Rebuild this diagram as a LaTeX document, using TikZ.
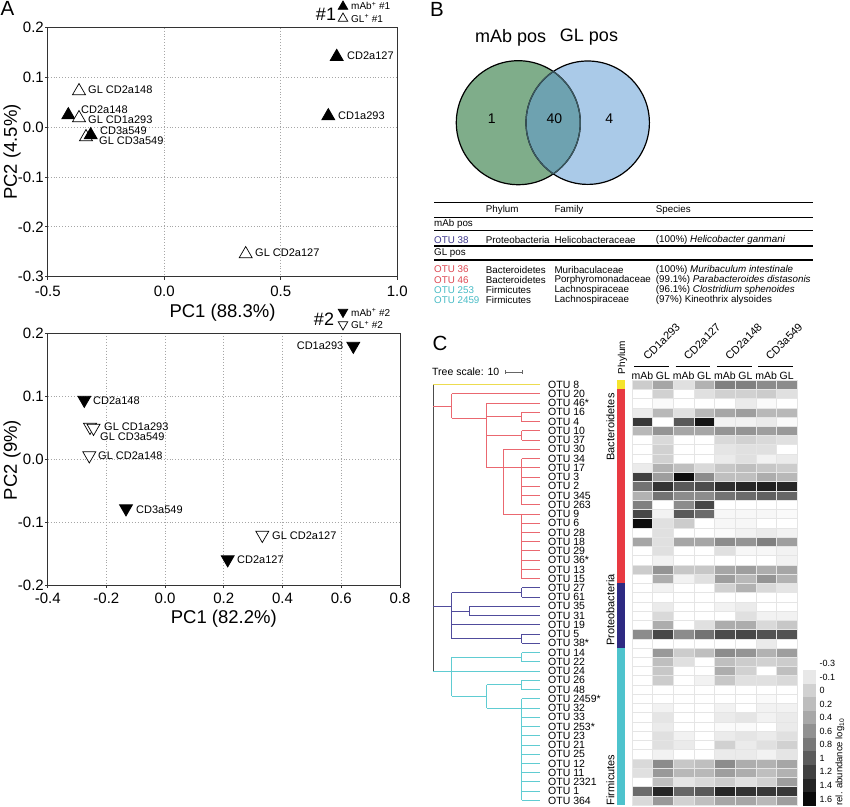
\documentclass[tikz,border=0pt]{standalone}
\usepackage{fontspec}
\setmainfont{Liberation Sans}
\usetikzlibrary{shapes.geometric}
\newcommand{\fsz}[1]{\fontsize{#1}{#1}\selectfont}
\newcommand{\tleaf}[3]{\draw[#1] (#2,{384.6+(#3-1)*9.24}) -- (540,{384.6+(#3-1)*9.24});}
\definecolor{vgreen}{RGB}{127,173,138}
\definecolor{vblue}{RGB}{170,202,232}
\definecolor{vover}{RGB}{110,162,176}
\definecolor{pyel}{RGB}{245,228,45}
\definecolor{pred}{RGB}{232,58,66}
\definecolor{ppur}{RGB}{46,42,130}
\definecolor{pcyan}{RGB}{78,195,205}
\definecolor{lred}{RGB}{234,104,112}
\definecolor{lpur}{RGB}{80,76,156}
\definecolor{lcyan}{RGB}{96,204,210}
\definecolor{lyel}{RGB}{236,220,80}
\definecolor{txred}{RGB}{222,72,82}
\definecolor{txpur}{RGB}{62,56,140}
\definecolor{txcyan}{RGB}{72,188,198}
\begin{document}
\begin{tikzpicture}[x=1pt,y=-1pt,
  lab/.style={font=\fsz{11}, anchor=west, inner sep=0pt},
  ticklab/.style={font=\fsz{15}, inner sep=0pt},
  axtitle/.style={font=\fsz{18.5}, inner sep=0pt},
  panel/.style={font=\fsz{20.5}, inner sep=0pt},
  gridl/.style={black!35, dotted, line width=0.9pt},
  frame/.style={line width=0.9pt, black!80},
  uptri/.style={regular polygon, regular polygon sides=3, minimum size=15pt, inner sep=0pt, draw=black, line width=0.7pt},
  dntri/.style={uptri, shape border rotate=180},
  smalltri/.style={minimum size=11pt},
  tab/.style={font=\fsz{9.8}, anchor=west, inner sep=0pt},
  rule/.style={line width=1.1pt},
  otu/.style={font=\fsz{10.5}, anchor=west, inner sep=0pt},
  tline/.style={line width=0.9pt},
  troot/.style={tline, black!70},
  tyel/.style={tline, lyel},
  tred/.style={tline, lred},
  tpur/.style={tline, lpur},
  tcyan/.style={tline, lcyan},
  hdr/.style={font=\fsz{10.5}, inner sep=0pt},
  grp/.style={font=\fsz{11}, inner sep=0pt, anchor=south west, rotate=45},
  phy/.style={font=\fsz{11}, inner sep=0pt, rotate=90},
  leg/.style={font=\fsz{9}, anchor=west, inner sep=0pt}
]
\useasboundingbox (0,0) rectangle (850,806);
\fill[white] (0,0) rectangle (850,806);

%% ================= Panel A top =================
\node[panel] (pA) at (7.5,8) {A};
\foreach \x in {164.2,280.7} \draw[gridl] (\x,27.7) -- (\x,276.7);
\foreach \y in {77.5,127.3,177.1,226.9} \draw[gridl] (47.7,\y) -- (397.3,\y);
\draw[frame] (47.7,27.7) rectangle (397.3,276.7);
\foreach \x in {47.7,164.2,280.7,397.3} \draw[frame] (\x,276.7) -- (\x,280);
\foreach \y in {27.7,77.5,127.3,177.1,226.9,276.7} \draw[frame] (47.7,\y) -- (44.7,\y);
\node[ticklab] at (47.7,291) {-0.5};
\node[ticklab] at (164.2,291) {0.0};
\node[ticklab] at (280.7,291) {0.5};
\node[ticklab] at (397.3,291) {1.0};
\node[ticklab, anchor=east] at (44,27.7) {0.2};
\node[ticklab, anchor=east] at (44,77.5) {0.1};
\node[ticklab, anchor=east] at (44,127.3) {0.0};
\node[ticklab, anchor=east] at (44,177.1) {-0.1};
\node[ticklab, anchor=east] at (44,226.9) {-0.2};
\node[ticklab, anchor=east] at (44,276.7) {-0.3};
\node[axtitle] (xa1) at (222.5,312.5) {PC1 (88.3\%)};
\node[axtitle, rotate=90] (ya1) at (12,152) {PC2 (4.5\%)};
% legend
\node[font=\fsz{18}, inner sep=0pt] (h1) at (326,14.5) {\#1};
\node[uptri, smalltri, fill=black] (lg1a) at (343,6.5) {};
\node[leg, font=\fsz{10}] at (351,6) {mAb\textsuperscript{+} \#1};
\node[uptri, smalltri, fill=white] (lg1b) at (343,18.5) {};
\node[leg, font=\fsz{10}] at (351,18.5) {GL\textsuperscript{+} \#1};
% points
\node[uptri, fill=black] (a1) at (336.7,56.7) {};
\node[lab] at (347,55.5) {CD2a127};
\node[uptri, fill=black] (a2) at (328.3,116) {};
\node[lab] at (338,115.5) {CD1a293};
\node[uptri, fill=white] (a3) at (79,91) {};
\node[lab] at (88,90) {GL CD2a148};
\node[uptri, fill=black] (a4) at (68.3,115) {};
\node[uptri, fill=white] (a5) at (79,118) {};
\node[lab] at (81,109.5) {CD2a148};
\node[lab] at (88,119.5) {GL CD1a293};
\node[uptri, fill=white] (a6) at (86,137) {};
\node[uptri, fill=black] (a7) at (90.7,135) {};
\node[lab] at (100,131) {CD3a549};
\node[lab] at (99,141) {GL CD3a549};
\node[uptri, fill=white] (a8) at (245.7,254) {};
\node[lab] at (255,253) {GL CD2a127};

%% ================= Panel A bottom =================
\foreach \x in {106.4,165.1,223.8,282.5,341.2} \draw[gridl] (\x,333.3) -- (\x,585);
\foreach \y in {396.2,459.2,522} \draw[gridl] (47.7,\y) -- (400,\y);
\draw[frame] (47.7,333.3) rectangle (400,585);
\foreach \x in {47.7,106.4,165.1,223.8,282.5,341.2,400} \draw[frame] (\x,585) -- (\x,588.3);
\foreach \y in {333.3,396.2,459.2,522,585} \draw[frame] (47.7,\y) -- (44.7,\y);
\node[ticklab] at (47.7,598) {-0.4};
\node[ticklab] at (106.4,598) {-0.2};
\node[ticklab] at (165.1,598) {0.0};
\node[ticklab] at (223.8,598) {0.2};
\node[ticklab] at (282.5,598) {0.4};
\node[ticklab] at (341.2,598) {0.6};
\node[ticklab] at (400,598) {0.8};
\node[ticklab, anchor=east] at (44,333.3) {0.2};
\node[ticklab, anchor=east] at (44,396.2) {0.1};
\node[ticklab, anchor=east] at (44,459.2) {0.0};
\node[ticklab, anchor=east] at (44,522) {-0.1};
\node[ticklab, anchor=east] at (44,585) {-0.2};
\node[axtitle] (xa2) at (223.8,619) {PC1 (82.2\%)};
\node[axtitle, rotate=90] (ya2) at (12,460) {PC2 (9\%)};
\node[font=\fsz{18}, inner sep=0pt] (h2) at (324,319.5) {\#2};
\node[dntri, smalltri, fill=black] (lg2a) at (343,312) {};
\node[leg, font=\fsz{10}] at (351,312.5) {mAb\textsuperscript{+} \#2};
\node[dntri, smalltri, fill=white] (lg2b) at (343,324.5) {};
\node[leg, font=\fsz{10}] at (351,325) {GL\textsuperscript{+} \#2};
\node[dntri, fill=black] (b1) at (353.3,346) {};
\node[lab, anchor=east] at (343.5,346) {CD1a293};
\node[dntri, fill=black] (b2) at (84.3,400) {};
\node[lab] at (93,401) {CD2a148};
\node[dntri, fill=white] (b3) at (90,427) {};
\node[dntri, fill=white] (b4) at (93.5,428) {};
\node[lab] at (104,427) {GL CD1a293};
\node[lab] at (100,437) {GL CD3a549};
\node[dntri, fill=white] (b5) at (89.3,455.5) {};
\node[lab] at (98,456) {GL CD2a148};
\node[dntri, fill=black] (b6) at (126,508.5) {};
\node[lab] at (136,509.5) {CD3a549};
\node[dntri, fill=white] (b7) at (262.3,535) {};
\node[lab] at (272,536) {GL CD2a127};
\node[dntri, fill=black] (b8) at (227.7,559.5) {};
\node[lab] at (237,560) {CD2a127};

%% ================= Panel B =================
\node[panel] (pB) at (437,9) {B};
\node[font=\fsz{18}, inner sep=0pt] (vl1) at (510.7,37.5) {mAb pos};
\node[font=\fsz{18}, inner sep=0pt] (vl2) at (589,37.5) {GL pos};
\fill[vgreen] (518.3,122.7) circle (62);
\fill[vblue] (587.7,122.7) circle (61.7);
\begin{scope}
  \clip (518.3,122.7) circle (62);
  \fill[vover] (587.7,122.7) circle (61.7);
\end{scope}
\draw[line width=1.2pt] (518.3,122.7) circle (62);
\draw[line width=1.2pt] (587.7,122.7) circle (61.7);
\begin{scope}
  \clip (518.3,122.7) circle (62);
  \draw[line width=1.2pt, black!45!vover] (587.7,122.7) circle (61.7);
\end{scope}
\begin{scope}
  \clip (587.7,122.7) circle (61.7);
  \draw[line width=1.2pt, black!45!vover] (518.3,122.7) circle (62);
\end{scope}
\node[font=\fsz{14}, inner sep=0pt] (n1) at (491.7,118.5) {1};
\node[font=\fsz{14}, inner sep=0pt] (n40) at (554.3,118.5) {40};
\node[font=\fsz{14}, inner sep=0pt] (n4) at (609.3,118.5) {4};

% table
\foreach \y in {202.7,217.3,230.7,246,260} \draw[rule] (434,\y) -- (812.7,\y);
\node[tab] at (485.7,210) {Phylum};
\node[tab] at (554.3,210) {Family};
\node[tab] at (655.7,210) {Species};
\node[tab] at (434,224.3) {mAb pos};
\node[tab, text=txpur] at (434,240) {OTU 38};
\node[tab] at (485.7,240) {Proteobacteria};
\node[tab] at (554.3,240) {Helicobacteraceae};
\node[tab] at (655.7,240) {(100\%) \textit{Helicobacter ganmani}};
\node[tab] at (434,253.3) {GL pos};
\node[tab, text=txred] at (434,269.5) {OTU 36};
\node[tab] at (485.7,269.5) {Bacteroidetes};
\node[tab] at (554.3,269.5) {Muribaculaceae};
\node[tab] at (655.7,269.5) {(100\%) \textit{Muribaculum intestinale}};
\node[tab, text=txred] at (434,279.8) {OTU 46};
\node[tab] at (485.7,279.8) {Bacteroidetes};
\node[tab] at (554.3,279.8) {Porphyromonadaceae};
\node[tab] at (655.7,279.8) {(99.1\%) \textit{Parabacteroides distasonis}};
\node[tab, text=txcyan] at (434,290.1) {OTU 253};
\node[tab] at (485.7,290.1) {Firmicutes};
\node[tab] at (554.3,290.1) {Lachnospiraceae};
\node[tab] at (655.7,290.1) {(96.1\%) \textit{Clostridium sphenoides}};
\node[tab, text=txcyan] at (434,300.4) {OTU 2459};
\node[tab] at (485.7,300.4) {Firmicutes};
\node[tab] at (554.3,300.4) {Lachnospiraceae};
\node[tab] at (655.7,300.4) {(97\%) Kineothrix alysoides};

%% ================= Panel C =================
\node[panel] (pC) at (440,343) {C};
\node[font=\fsz{10.5}, anchor=west, inner sep=0pt] (ts) at (432,372) {Tree scale: 10};
\coordinate (sb1) at (505,372);
\coordinate (sb2) at (522,372);
\draw[black!60, line width=0.6pt] (sb1) -- (sb2);
\draw[black!60, line width=0.6pt] (505,370) -- (505,374) (522,370) -- (522,374);

% tree
\draw[troot] (433,384.6) -- (433,671.04);
\draw[tyel] (433,384.6) -- (540,384.6);
% Bacteroidetes
\draw[tred] (433,406.1) -- (451.7,406.1);
\draw[tred] (451.7,393.84) -- (451.7,418.3);
\tleaf{tred}{451.7}{2}
\draw[tred] (451.7,418.3) -- (486.7,418.3);
\draw[tred] (486.7,403.08) -- (486.7,467.76);
\tleaf{tred}{486.7}{3}
\draw[tred] (486.7,416.94) -- (521.7,416.94);
\draw[tred] (521.7,412.32) -- (521.7,421.56);
\draw[tred] (486.7,435.42) -- (521.7,435.42);
\draw[tred] (521.7,430.8) -- (521.7,440.04);
\foreach \i in {4,5,6,7} {\tleaf{tred}{521.7}{\i}}
\draw[tred] (486.7,467.76) -- (503.3,467.76);
\draw[tred] (503.3,449.28) -- (503.3,513.96);
\tleaf{tred}{503.3}{8}
\tleaf{tred}{503.3}{10}
\draw[tred] (521.7,458.52) -- (521.7,504.72);
\foreach \i in {9,11,12,13,14} {\tleaf{tred}{521.7}{\i}}
\tleaf{tred}{503.3}{15}
\draw[tred] (521.7,513.96) -- (521.7,578.64);
\foreach \i in {16,...,22} {\tleaf{tred}{521.7}{\i}}
% Proteobacteria
\draw[tpur] (433,606.7) -- (451.7,606.7);
\draw[tpur] (451.7,592.5) -- (451.7,638.7);
\draw[tpur] (451.7,592.5) -- (521.7,592.5);
\draw[tpur] (521.7,587.88) -- (521.7,597.12);
\foreach \i in {23,24} {\tleaf{tpur}{521.7}{\i}}
\draw[tpur] (451.7,611) -- (469,611);
\draw[tpur] (469,606.36) -- (469,615.6);
\foreach \i in {25,26} {\tleaf{tpur}{469}{\i}}
\tleaf{tpur}{451.7}{27}
\draw[tpur] (451.7,638.7) -- (521.7,638.7);
\draw[tpur] (521.7,634.08) -- (521.7,643.32);
\foreach \i in {28,29} {\tleaf{tpur}{521.7}{\i}}
% Firmicutes
\draw[tcyan] (433,671.04) -- (451.7,671.04);
\draw[tcyan] (451.7,657.18) -- (451.7,696);
\draw[tcyan] (451.7,657.18) -- (521.7,657.18);
\draw[tcyan] (521.7,652.56) -- (521.7,661.8);
\foreach \i in {30,31} {\tleaf{tcyan}{521.7}{\i}}
\tleaf{tcyan}{451.7}{32}
\draw[tcyan] (451.7,696) -- (486.7,696);
\draw[tcyan] (486.7,684.9) -- (486.7,708);
\draw[tcyan] (486.7,684.9) -- (521.7,684.9);
\draw[tcyan] (521.7,680.28) -- (521.7,689.52);
\foreach \i in {33,34} {\tleaf{tcyan}{521.7}{\i}}
\tleaf{tcyan}{486.7}{36}
\draw[tcyan] (521.7,698.76) -- (521.7,800.4);
\foreach \i in {35,37,38,...,46} {\tleaf{tcyan}{521.7}{\i}}

% leaf labels
\foreach \lab [count=\i] in {OTU 8,OTU 20,OTU 46*,OTU 16,OTU 4,OTU 10,OTU 37,OTU 30,OTU 34,OTU 17,OTU 3,OTU 2,OTU 345,OTU 263,OTU 9,OTU 6,OTU 28,OTU 18,OTU 29,OTU 36*,OTU 13,OTU 15,OTU 27,OTU 61,OTU 35,OTU 31,OTU 19,OTU 5,OTU 38*,OTU 14,OTU 22,OTU 24,OTU 26,OTU 48,OTU 2459*,OTU 32,OTU 33,OTU 253*,OTU 23,OTU 21,OTU 25,OTU 12,OTU 11,OTU 2321,OTU 1,OTU 364}
  \node[otu] (L\i) at (548,{384.6+(\i-1)*9.24}) {\lab};

% phylum bar
\fill[pyel] (617,380) rectangle (625,389.24);
\fill[pred] (617,389.24) rectangle (625,583.28);
\fill[ppur] (617,583.28) rectangle (625,647.96);
\fill[pcyan] (617,647.96) rectangle (625,805);
\node[phy] (ph1) at (610.5,427) {Bacteroidetes};
\node[phy] (ph2) at (610.5,610) {Proteobacteria};
\node[phy] (ph3) at (610.5,780) {Firmicutes};
\node[hdr, rotate=90, font=\fsz{10}] (phh) at (622.5,357.5) {Phylum};

% heatmap
\foreach \row [count=\i] in {
{80,65,88,70,50,50,55,55},
{100,82,100,88,82,82,80,88},
{100,98,100,100,100,92,98,100},
{92,72,88,72,65,62,72,72},
{22,100,35,8,95,95,92,98},
{72,58,65,65,58,58,62,60},
{100,85,100,100,85,82,85,88},
{100,82,100,100,90,88,88,100},
{100,82,100,100,92,88,95,92},
{92,70,75,85,78,75,78,80},
{25,62,5,55,75,75,68,72},
{45,20,35,30,18,15,12,15},
{70,45,55,55,45,42,38,40},
{50,100,55,28,100,100,100,100},
{28,95,35,42,97,97,97,98},
{5,88,80,100,97,97,100,100},
{100,88,100,100,98,95,92,95},
{65,88,65,65,55,58,50,62},
{100,88,100,100,88,97,97,95},
{100,95,100,100,100,100,100,95},
{80,58,78,78,65,62,68,65},
{100,68,95,88,62,72,58,70},
{100,95,100,100,82,70,85,90},
{100,100,100,100,100,100,100,100},
{100,92,100,100,95,92,100,100},
{100,85,100,100,100,88,95,95},
{100,68,100,88,68,68,85,78},
{55,28,55,45,30,28,32,32},
{100,100,100,100,100,100,92,100},
{100,60,80,75,55,58,70,62},
{100,75,88,100,75,80,82,80},
{100,78,100,100,68,82,100,75},
{100,80,100,95,78,88,88,85},
{100,100,100,100,100,100,100,100},
{100,100,100,100,100,100,98,100},
{100,95,100,100,95,100,95,95},
{100,90,100,100,92,90,95,92},
{100,92,100,100,98,98,100,92},
{100,88,95,100,92,90,92,88},
{100,88,92,100,82,92,88,82},
{100,95,100,100,92,92,95,90},
{85,55,78,75,55,68,70,65},
{88,60,72,72,62,68,75,70},
{100,75,90,85,80,88,82,62},
{42,15,40,35,15,20,22,22},
{85,60,82,75,65,65,72,62}} {
  \foreach \v [count=\j] in \row {
    \filldraw[fill=white!\v!black, draw=black!10, line width=0.4pt]
      ({632+(\j-1)*20.63},{380+(\i-1)*9.24}) rectangle ++(20.63,9.24);
  }
}

% column headers
\foreach \j in {0,1,2,3} {
  \draw[line width=1.2pt] ({634.3+\j*41.26},366.7) -- ({669+\j*41.26},366.7);
  \node[hdr] at ({642.3+\j*41.26},375.5) {mAb};
  \node[hdr] at ({662.9+\j*41.26},375.5) {GL};
}
\node[grp] (g1) at (648,361) {CD1a293};
\node[grp] (g2) at (688.5,361) {CD2a127};
\node[grp] (g3) at (730,361) {CD2a148};
\node[grp] (g4) at (770.5,361) {CD3a549};

% legend colour bar
\foreach \v/\t [count=\k] in {100/-0.3,91/-0.1,82/0,74/0.2,66/0.4,57/0.6,47/0.8,36/1,25/1.2,14/1.4,4/1.6} {
  \fill[white!\v!black] (803,{656.7+(\k-1)*13.54}) rectangle ++(13,13.54);
  \node[leg] at (819.5,{663.5+(\k-1)*13.54}) {\t};
}
\node[font=\fsz{9.5}, inner sep=0pt, rotate=90] (rel) at (840,762) {rel. abundance log\textsubscript{10}};
\end{tikzpicture}
\end{document}
